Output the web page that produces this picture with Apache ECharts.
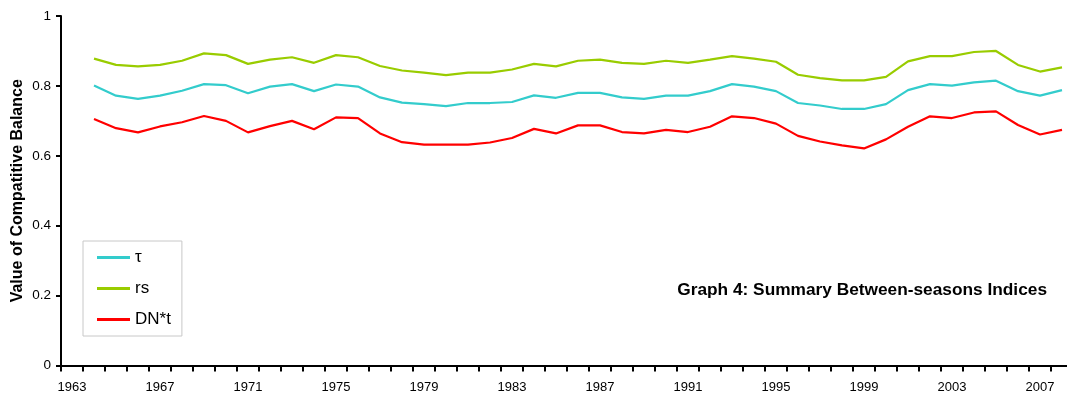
<!DOCTYPE html>
<html>
<head>
<meta charset="utf-8">
<script src="https://cdn.jsdelivr.net/npm/echarts@6/dist/echarts.min.js"></script>
<style>
  html, body { margin: 0; padding: 0; background: #fff; }
  #chart { width: 1067px; height: 397px; }
</style>
</head>
<body>
<div id="chart"></div>
<script>
// Seasons on the category axis (first slot 1963 is empty, 2008 sits at the right edge)
const years = [];
for (let y = 1963; y <= 2008; y++) years.push(String(y));

// Between-seasons indices, 1964 – 2008
const tau = [0.801, 0.772, 0.763, 0.772, 0.786, 0.805, 0.802, 0.779, 0.798, 0.805, 0.785, 0.804,
  0.798, 0.767, 0.752, 0.748, 0.742, 0.751, 0.751, 0.754, 0.773, 0.766, 0.780,
  0.780, 0.767, 0.763, 0.772, 0.772, 0.785, 0.805, 0.798, 0.785, 0.751, 0.744,
  0.734, 0.734, 0.748, 0.788, 0.805, 0.801, 0.810, 0.815, 0.785, 0.772, 0.788];

const rs = [0.878, 0.860, 0.856, 0.860, 0.872, 0.893, 0.888, 0.863, 0.875, 0.882, 0.866, 0.888,
  0.882, 0.857, 0.844, 0.838, 0.831, 0.838, 0.838, 0.847, 0.863, 0.856, 0.872,
  0.875, 0.866, 0.863, 0.872, 0.866, 0.875, 0.885, 0.878, 0.869, 0.832, 0.822,
  0.816, 0.816, 0.826, 0.870, 0.885, 0.885, 0.897, 0.900, 0.860, 0.841, 0.853];

const dnt = [0.705, 0.679, 0.667, 0.684, 0.696, 0.714, 0.700, 0.667, 0.685, 0.700, 0.676, 0.710,
  0.708, 0.664, 0.639, 0.632, 0.632, 0.632, 0.638, 0.651, 0.677, 0.664, 0.687,
  0.687, 0.668, 0.664, 0.674, 0.668, 0.683, 0.713, 0.708, 0.692, 0.657, 0.641,
  0.630, 0.621, 0.647, 0.683, 0.713, 0.708, 0.724, 0.727, 0.688, 0.661, 0.674];

const seriesNames = ['τ', 'rs', 'DN*t'];
const seriesColors = ['#33CCCC', '#99CC00', '#FF0000'];

const FONT = '"Liberation Sans", Arial, sans-serif';

// 1963 has no value: the lines start in the second slot
const pad = arr => [null].concat(arr);

const chart = echarts.init(document.getElementById('chart'), null, { renderer: 'canvas' });

chart.setOption({
  animation: false,
  textStyle: { fontFamily: FONT },
  title: {
    text: 'Graph 4: Summary Between-seasons Indices',
    right: 20,
    top: 282,
    padding: 0,
    textStyle: { fontFamily: FONT, fontSize: 17.3, fontWeight: 'bold', color: '#000' }
  },
  legend: {
    orient: 'vertical',
    left: 83,
    top: 241,
    padding: [8, 11, 8, 14],
    itemGap: 14,
    itemWidth: 33,
    itemHeight: 3,
    icon: 'rect',
    borderColor: '#c8c8c8',
    borderWidth: 1,
    textStyle: { fontFamily: FONT, fontSize: 17, color: '#000' },
    data: seriesNames
  },
  grid: { left: 61, top: 16, width: 1012, height: 349.5, containLabel: false, outerBoundsMode: 'none' },
  xAxis: {
    type: 'category',
    data: years,
    boundaryGap: true,
    axisLine: { show: true, lineStyle: { color: '#000', width: 2 } },
    axisTick: { show: true, interval: 0, alignWithLabel: false, length: 6, lineStyle: { color: '#000', width: 2 } },
    axisLabel: { interval: 3, color: '#000', fontSize: 13, margin: 15, fontFamily: FONT },
    splitLine: { show: false }
  },
  yAxis: {
    type: 'value',
    min: 0,
    max: 1,
    interval: 0.2,
    name: 'Value of Compatitive Balance',
    nameLocation: 'middle',
    nameGap: 35,
    nameMoveOverlap: false,
    nameTextStyle: { fontFamily: FONT, fontSize: 16, fontWeight: 'bold', color: '#000' },
    axisLine: { show: true, lineStyle: { color: '#000', width: 2 } },
    axisTick: { show: true, length: 5, lineStyle: { color: '#000', width: 2 } },
    axisLabel: { color: '#000', fontSize: 13.5, margin: 10, fontFamily: FONT },
    splitLine: { show: false }
  },
  series: [tau, rs, dnt].map((d, i) => ({
    name: seriesNames[i],
    type: 'line',
    data: pad(d),
    showSymbol: false,
    symbol: 'none',
    connectNulls: false,
    color: seriesColors[i],
    lineStyle: { color: seriesColors[i], width: 2.2 }
  }))
});
</script>
</body>
</html>
